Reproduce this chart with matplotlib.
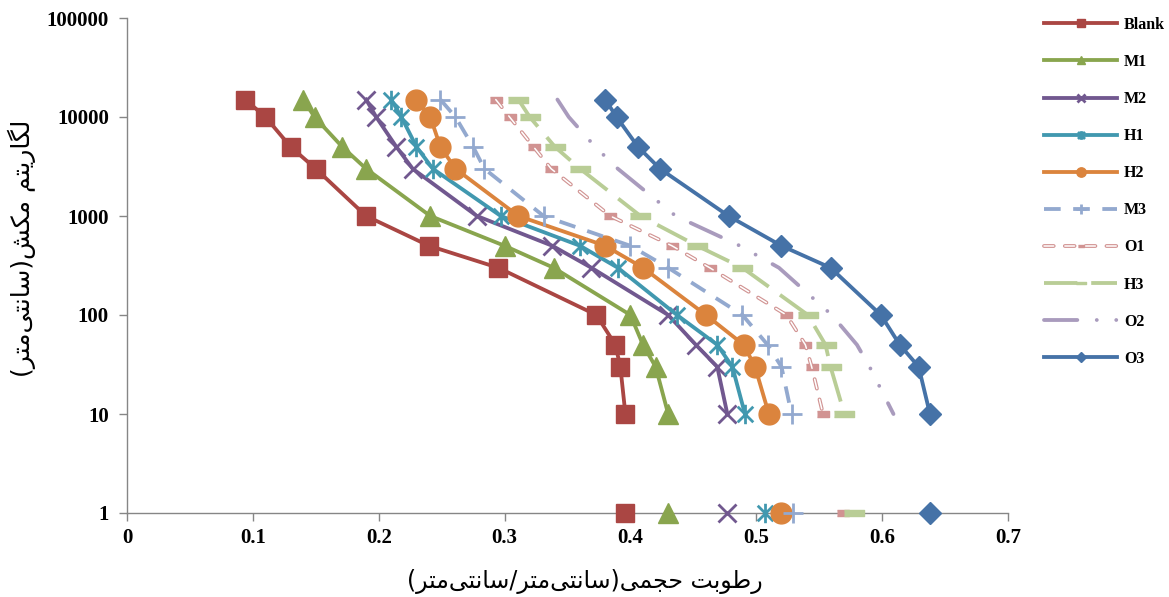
import matplotlib
matplotlib.use("Agg")
import matplotlib.pyplot as plt
import numpy as np
from matplotlib.path import Path
from matplotlib.ticker import FixedLocator, NullLocator

# ---------------- data ----------------
suction = [15000, 10000, 5000, 3000, 1000, 500, 300, 100, 50, 30, 10]
saturation_suction = 1
series_names = ["Blank", "M1", "M2", "H1", "H2", "M3", "O1", "H3", "O2", "O3"]

blank = [0.094, 0.110, 0.130, 0.150, 0.190, 0.240, 0.295, 0.373, 0.388, 0.392, 0.396]
m1 = [0.140, 0.149, 0.171, 0.190, 0.241, 0.300, 0.339, 0.400, 0.410, 0.420, 0.430]
m2 = [0.190, 0.198, 0.214, 0.227, 0.278, 0.338, 0.369, 0.430, 0.452, 0.469, 0.477]
h1 = [0.210, 0.218, 0.230, 0.243, 0.297, 0.360, 0.390, 0.437, 0.469, 0.481, 0.491]
h2 = [0.230, 0.241, 0.249, 0.261, 0.311, 0.380, 0.410, 0.460, 0.490, 0.499, 0.510]
m3 = [0.249, 0.261, 0.275, 0.284, 0.331, 0.400, 0.430, 0.489, 0.509, 0.520, 0.528]
o1 = [0.293, 0.304, 0.323, 0.337, 0.384, 0.433, 0.463, 0.524, 0.539, 0.544, 0.553]
h3 = [0.311, 0.320, 0.340, 0.360, 0.408, 0.453, 0.489, 0.541, 0.555, 0.559, 0.570]
o2 = [0.342, 0.351, 0.372, 0.390, 0.436, 0.487, 0.518, 0.560, 0.580, 0.590, 0.609]
o3 = [0.380, 0.389, 0.406, 0.4235, 0.478, 0.520, 0.559, 0.599, 0.614, 0.629, 0.638]
saturation_moisture = [0.396, 0.430, 0.477, 0.507, 0.520, 0.529, 0.569, 0.578, np.nan, 0.638]

x_ticks = [0, 0.1, 0.2, 0.3, 0.4, 0.5, 0.6, 0.7]
x_tick_labels = ["0", "0.1", "0.2", "0.3", "0.4", "0.5", "0.6", "0.7"]
y_ticks = [1, 10, 100, 1000, 10000, 100000]
y_tick_labels = ["1", "10", "100", "1000", "10000", "100000"]

x_label_text = "رطوبت حجمی(سانتی\u200cمتر/سانتی\u200cمتر)"
y_label_text = "لگاریتم مکش(سانتی\u200cمتر)"

# ---------------- simple Persian shaping (presentation forms, visual order) ----------------
FORMS = {  # isolated, final, initial, medial
    "\u0627": ("\uFE8D", "\uFE8E", None, None),
    "\u0628": ("\uFE8F", "\uFE90", "\uFE91", "\uFE92"),
    "\u062A": ("\uFE95", "\uFE96", "\uFE97", "\uFE98"),
    "\u062C": ("\uFE9D", "\uFE9E", "\uFE9F", "\uFEA0"),
    "\u062D": ("\uFEA1", "\uFEA2", "\uFEA3", "\uFEA4"),
    "\u0631": ("\uFEAD", "\uFEAE", None, None),
    "\u0633": ("\uFEB1", "\uFEB2", "\uFEB3", "\uFEB4"),
    "\u0634": ("\uFEB5", "\uFEB6", "\uFEB7", "\uFEB8"),
    "\u0637": ("\uFEC1", "\uFEC2", "\uFEC3", "\uFEC4"),
    "\u06A9": ("\uFB8E", "\uFB8F", "\uFB90", "\uFB91"),
    "\u06AF": ("\uFB92", "\uFB93", "\uFB94", "\uFB95"),
    "\u0644": ("\uFEDD", "\uFEDE", "\uFEDF", "\uFEE0"),
    "\u0645": ("\uFEE1", "\uFEE2", "\uFEE3", "\uFEE4"),
    "\u0646": ("\uFEE5", "\uFEE6", "\uFEE7", "\uFEE8"),
    "\u0648": ("\uFEED", "\uFEEE", None, None),
    "\u06CC": ("\uFBFC", "\uFBFD", "\uFBFE", "\uFBFF"),
}
MIRROR = {"(": ")", ")": "("}


def shape_rtl(text):
    chars = list(text)
    out = []
    for i, c in enumerate(chars):
        if c == "\u200c":
            continue
        if c not in FORMS:
            out.append(MIRROR.get(c, c))
            continue
        prev = chars[i - 1] if i > 0 else None
        nxt = chars[i + 1] if i + 1 < len(chars) else None
        join_prev = prev in FORMS and FORMS[prev][2] is not None
        join_next = FORMS[c][2] is not None and nxt in FORMS
        iso, fin, ini, med = FORMS[c]
        if join_prev and join_next:
            out.append(med)
        elif join_prev:
            out.append(fin)
        elif join_next:
            out.append(ini)
        else:
            out.append(iso)
    return "".join(reversed(out))


# ---------------- styles ----------------
plt.rcParams["lines.scale_dashes"] = False
colors = {
    "Blank": "#AA4643", "M1": "#89A54E", "M2": "#71588F", "H1": "#4198AF",
    "H2": "#DB843D", "M3": "#93A9CF", "O1": "#D19392", "H3": "#B9CD96",
    "O2": "#A99BBD", "O3": "#4572A7",
}
star = Path([(0, -1), (0, 1), (-0.8, -0.8), (0.8, 0.8), (-0.8, 0.8), (0.8, -0.8)],
            [Path.MOVETO, Path.LINETO, Path.MOVETO, Path.LINETO, Path.MOVETO, Path.LINETO])
bar_small = [(-1, -0.45), (1, -0.45), (1, 0.45), (-1, 0.45)]
bar_big = [(-1, -0.3), (1, -0.3), (1, 0.3), (-1, 0.3)]

LW = 2.75
styles = {
    "Blank": dict(marker="s", ms=13, ls="-"),
    "M1": dict(marker="^", ms=14, ls="-"),
    "M2": dict(marker="x", ms=13, mew=2, ls="-"),
    "H1": dict(marker=star, ms=14, mew=2, mfc="none", ls="-"),
    "H2": dict(marker="o", ms=15, ls="-"),
    "M3": dict(marker="+", ms=15, mew=2, ls=(0, (12, 9))),
    "O1": dict(marker=bar_small, ms=9, ls=(0, (7, 8)), dash_capstyle="round"),
    "H3": dict(marker=bar_big, ms=15, ls=(0, (24, 10))),
    "O2": dict(marker="None", ls=(0, (24, 14, 0.01, 14, 0.01, 14)), dash_capstyle="round"),
    "O3": dict(marker="D", ms=11, ls="-"),
}
series_values = [blank, m1, m2, h1, h2, m3, o1, h3, o2, o3]

# ---------------- figure ----------------
fig = plt.figure(figsize=(11.69, 5.97), dpi=100)
ax = fig.add_axes([127 / 1169, 1 - 513 / 597, (1008 - 127) / 1169, (513 - 18) / 597])
ax.set_yscale("log")
ax.set_xlim(0, 0.7)
ax.set_ylim(1, 100000)

handles = []
for name, vals, sat in zip(series_names, series_values, saturation_moisture):
    c = colors[name]
    st = dict(styles[name])
    ls = st.pop("ls")
    ln, = ax.plot(vals, suction, color=c, lw=LW, ls=ls, mec=c, mfc=st.pop("mfc", c),
                  label=name, zorder=3, **st)
    if name == "O1":
        inner, = ax.plot(vals, suction, color="white", lw=1.1, ls=ls,
                         dash_capstyle="round", zorder=3.01)
        handles.append((ln, inner))
    else:
        handles.append(ln)
    # saturation point (no connecting line)
    st2 = dict(styles[name])
    st2.pop("ls")
    st2.pop("dash_capstyle", None)
    mfc = st2.pop("mfc", c)
    ax.plot([sat], [saturation_suction], ls="none", color=c, mec=c, mfc=mfc, zorder=3,
            clip_on=False, **st2)

for s in ["top", "right"]:
    ax.spines[s].set_visible(False)
for s in ["left", "bottom"]:
    ax.spines[s].set_color("#868686")
    ax.spines[s].set_linewidth(1.0)
    ax.spines[s].set_zorder(1)

ax.xaxis.set_major_locator(FixedLocator(x_ticks))
ax.set_xticklabels(x_tick_labels)
ax.yaxis.set_major_locator(FixedLocator(y_ticks))
ax.yaxis.set_minor_locator(NullLocator())
ax.set_yticklabels(y_tick_labels)
ax.tick_params(axis="both", which="major", direction="out", length=6, width=1,
               color="#868686", labelcolor="black")
ax.tick_params(axis="x", pad=5)
ax.tick_params(axis="y", pad=7)
for lab in ax.get_xticklabels() + ax.get_yticklabels():
    lab.set_fontfamily("Liberation Serif")
    lab.set_fontweight("bold")
    lab.set_fontsize(15)

fig.text(585 / 1169, 1 - 581 / 597, shape_rtl(x_label_text), family=["DejaVu Sans"],
         fontsize=17, ha="center", va="center")
fig.text(22 / 1169, 1 - 248 / 597, shape_rtl(y_label_text), family=["DejaVu Sans"],
         fontsize=18, ha="center", va="center", rotation=90)

leg = fig.legend(handles, series_names, loc="upper left",
                 bbox_to_anchor=(1036 / 1169, 1 - 9 / 597), bbox_transform=fig.transFigure,
                 frameon=False, borderpad=0, handlelength=4.6, handletextpad=0.4,
                 labelspacing=1.32, markerscale=0.45, numpoints=1,
                 prop={"family": "Liberation Serif", "weight": "bold", "size": 11.5})

fig.savefig("out.png", dpi=100)
